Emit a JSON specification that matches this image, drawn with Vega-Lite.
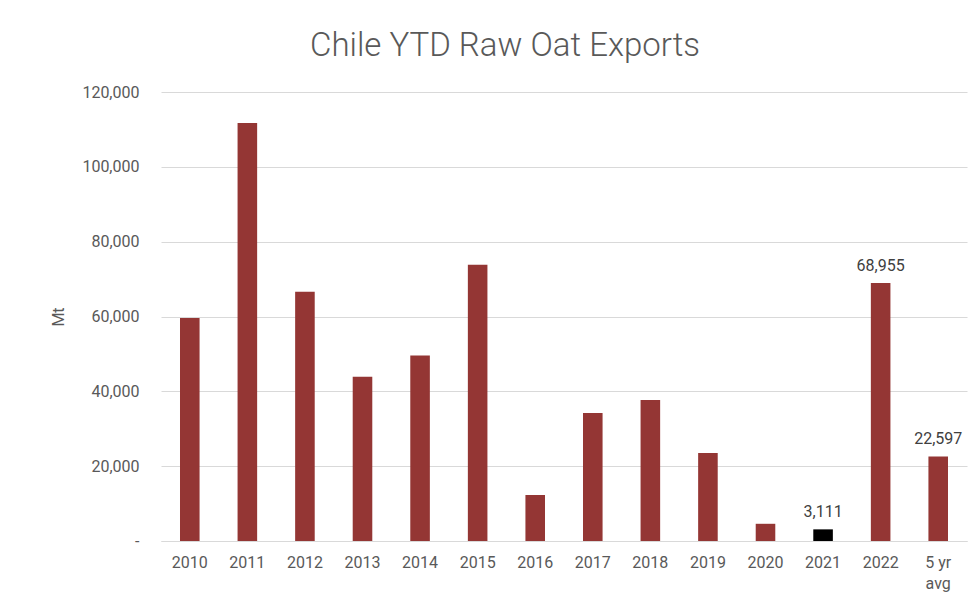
{
  "$schema": "https://vega.github.io/schema/vega-lite/v6.json",
  "autosize": {"type": "none"},
  "width": 806,
  "height": 449,
  "padding": {"left": 161, "top": 92, "right": 9, "bottom": 64},
  "background": "white",
  "config": {
    "view": {"stroke": null},
    "font": "Roboto",
    "axis": {"labelFont": "Roboto", "titleFont": "Roboto"}
  },
  "title": {
    "text": "Chile YTD Raw Oat Exports",
    "font": "Roboto",
    "fontSize": 33,
    "fontWeight": 300,
    "color": "#595959",
    "anchor": "middle",
    "dx": -59,
    "offset": 21
  },
  "data": {
    "values": [
      {"year": "2010", "value": 59600, "label": ""},
      {"year": "2011", "value": 111700, "label": ""},
      {"year": "2012", "value": 66600, "label": ""},
      {"year": "2013", "value": 43900, "label": ""},
      {"year": "2014", "value": 49600, "label": ""},
      {"year": "2015", "value": 73800, "label": ""},
      {"year": "2016", "value": 12300, "label": ""},
      {"year": "2017", "value": 34200, "label": ""},
      {"year": "2018", "value": 37700, "label": ""},
      {"year": "2019", "value": 23500, "label": ""},
      {"year": "2020", "value": 4600, "label": ""},
      {"year": "2021", "value": 3111, "label": "3,111"},
      {"year": "2022", "value": 68955, "label": "68,955"},
      {"year": "5 yr avg", "value": 22597, "label": "22,597"}
    ]
  },
  "encoding": {
    "x": {
      "field": "year",
      "type": "nominal",
      "sort": null,
      "scale": {"paddingInner": 0.66, "paddingOuter": 0.33},
      "axis": {
        "title": null,
        "labelAngle": 0,
        "labelFontSize": 16,
        "labelColor": "#595959",
        "labelPadding": 13,
        "ticks": false,
        "tickSize": 0,
        "domainColor": "#d9d9d9",
        "domainWidth": 1,
        "labelLineHeight": 21,
        "labelExpr": "datum.label == '5 yr avg' ? ['5 yr', 'avg'] : datum.label"
      }
    },
    "y": {
      "field": "value",
      "type": "quantitative",
      "scale": {"domain": [0, 120000]},
      "axis": {
        "title": "Mt",
        "titleFontSize": 16,
        "titleFontWeight": "normal",
        "titleColor": "#595959",
        "titlePadding": 15,
        "values": [0, 20000, 40000, 60000, 80000, 100000, 120000],
        "labelExpr": "datum.value == 0 ? '-\u2007' : format(datum.value, ',')",
        "labelFontSize": 16,
        "labelColor": "#595959",
        "labelPadding": 22,
        "ticks": false,
        "tickSize": 0,
        "domain": false,
        "gridColor": "#d9d9d9",
        "gridWidth": 1
      }
    }
  },
  "layer": [
    {
      "mark": {"type": "bar"},
      "encoding": {
        "color": {
          "condition": {"test": "datum.year == '2021'", "value": "#000000"},
          "value": "#943634"
        }
      }
    },
    {
      "mark": {"type": "text", "baseline": "alphabetic", "dy": -12, "fontSize": 16, "color": "#404040", "font": "Roboto"},
      "encoding": {"text": {"field": "label"}}
    }
  ]
}
